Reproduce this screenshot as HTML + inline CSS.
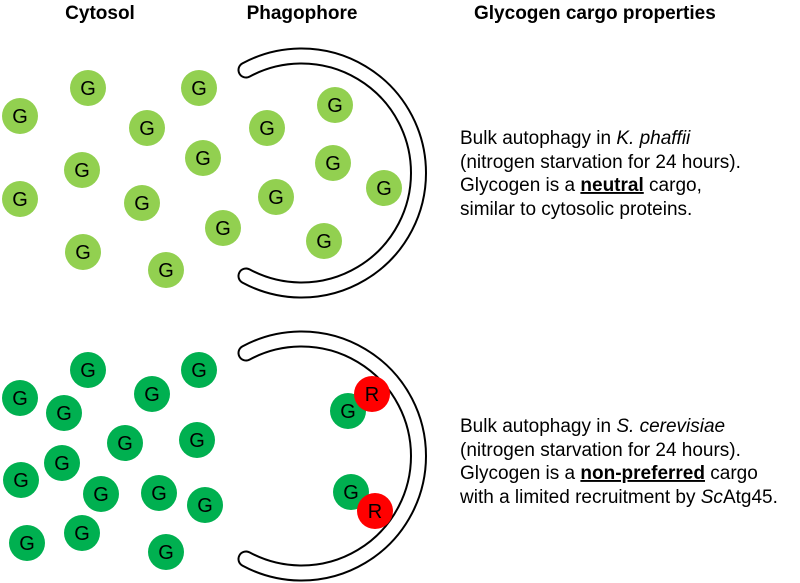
<!DOCTYPE html>
<html><head><style>body{margin:0;background:#fff}svg{display:block}</style></head>
<body>
<svg width="800" height="583" viewBox="0 0 800 583" xmlns="http://www.w3.org/2000/svg" font-family="Liberation Sans, Arial, sans-serif">
<g font-weight="bold" font-size="19" fill="#000">
<text x="100" y="19" text-anchor="middle">Cytosol</text>
<text x="302" y="19" text-anchor="middle">Phagophore</text>
<text x="474" y="19">Glycogen cargo properties</text>
</g>
<g fill="none" stroke-linecap="round">
<path d="M246 70 A117 117 0 1 1 246 276" stroke="#000" stroke-width="17"/>
<path d="M246 70 A117 117 0 1 1 246 276" stroke="#fff" stroke-width="13"/>
<path d="M246 353 A117 117 0 1 1 246 559" stroke="#000" stroke-width="17"/>
<path d="M246 353 A117 117 0 1 1 246 559" stroke="#fff" stroke-width="13"/>
</g>
<g fill="#92d050">
<circle cx="20" cy="116" r="18"/><circle cx="88" cy="88" r="18"/><circle cx="147" cy="128" r="18"/><circle cx="82" cy="170" r="18"/><circle cx="20" cy="199" r="18"/><circle cx="199" cy="88" r="18"/><circle cx="203" cy="158" r="18"/><circle cx="142" cy="203" r="18"/><circle cx="83" cy="252" r="18"/><circle cx="223" cy="228" r="18"/><circle cx="166" cy="270" r="18"/><circle cx="267" cy="128" r="18"/><circle cx="276" cy="197" r="18"/><circle cx="335" cy="105" r="18"/><circle cx="333" cy="163" r="18"/><circle cx="384" cy="188" r="18"/><circle cx="324" cy="241" r="18"/>
</g>
<g fill="#00b050">
<circle cx="20" cy="398" r="18"/><circle cx="88" cy="370" r="18"/><circle cx="64" cy="413" r="18"/><circle cx="152" cy="394" r="18"/><circle cx="199" cy="370" r="18"/><circle cx="125" cy="443" r="18"/><circle cx="197" cy="440" r="18"/><circle cx="62" cy="463" r="18"/><circle cx="21" cy="480" r="18"/><circle cx="101" cy="494" r="18"/><circle cx="159" cy="493" r="18"/><circle cx="205" cy="505" r="18"/><circle cx="82" cy="533" r="18"/><circle cx="27" cy="543" r="18"/><circle cx="166" cy="552" r="18"/>
<circle cx="348" cy="411" r="18"/><circle cx="351" cy="492" r="18"/>
</g>
<g fill="#ff0000"><circle cx="372" cy="394" r="18"/><circle cx="375" cy="511" r="18"/></g>
<g font-size="20" fill="#000" text-anchor="middle">
<text x="20" y="123">G</text><text x="88" y="95">G</text><text x="147" y="135">G</text><text x="82" y="177">G</text><text x="20" y="206">G</text><text x="199" y="95">G</text><text x="203" y="165">G</text><text x="142" y="210">G</text><text x="83" y="259">G</text><text x="223" y="235">G</text><text x="166" y="277">G</text><text x="267" y="135">G</text><text x="276" y="204">G</text><text x="335" y="112">G</text><text x="333" y="170">G</text><text x="384" y="195">G</text><text x="324" y="248">G</text>
<text x="20" y="405">G</text><text x="88" y="377">G</text><text x="64" y="420">G</text><text x="152" y="401">G</text><text x="199" y="377">G</text><text x="125" y="450">G</text><text x="197" y="447">G</text><text x="62" y="470">G</text><text x="21" y="487">G</text><text x="101" y="501">G</text><text x="159" y="500">G</text><text x="205" y="512">G</text><text x="82" y="540">G</text><text x="27" y="550">G</text><text x="166" y="559">G</text>
<text x="348" y="418">G</text><text x="351" y="499">G</text><text x="372" y="401">R</text><text x="375" y="518">R</text>
</g>
<g font-size="19" fill="#000">
<text x="460" y="144">Bulk autophagy in <tspan font-style="italic">K. phaffii</tspan></text>
<text x="460" y="168">(nitrogen starvation for 24 hours).</text>
<text x="460" y="191">Glycogen is a <tspan font-weight="bold" text-decoration="underline">neutral</tspan> cargo,</text>
<text x="460" y="215">similar to cytosolic proteins.</text>
<text x="460" y="432">Bulk autophagy in <tspan font-style="italic">S. cerevisiae</tspan></text>
<text x="460" y="456">(nitrogen starvation for 24 hours).</text>
<text x="460" y="479">Glycogen is a <tspan font-weight="bold" text-decoration="underline">non-preferred</tspan> cargo</text>
<text x="460" y="503">with a limited recruitment by <tspan font-style="italic">Sc</tspan>Atg45.</text>
</g>
</svg>
</body></html>
